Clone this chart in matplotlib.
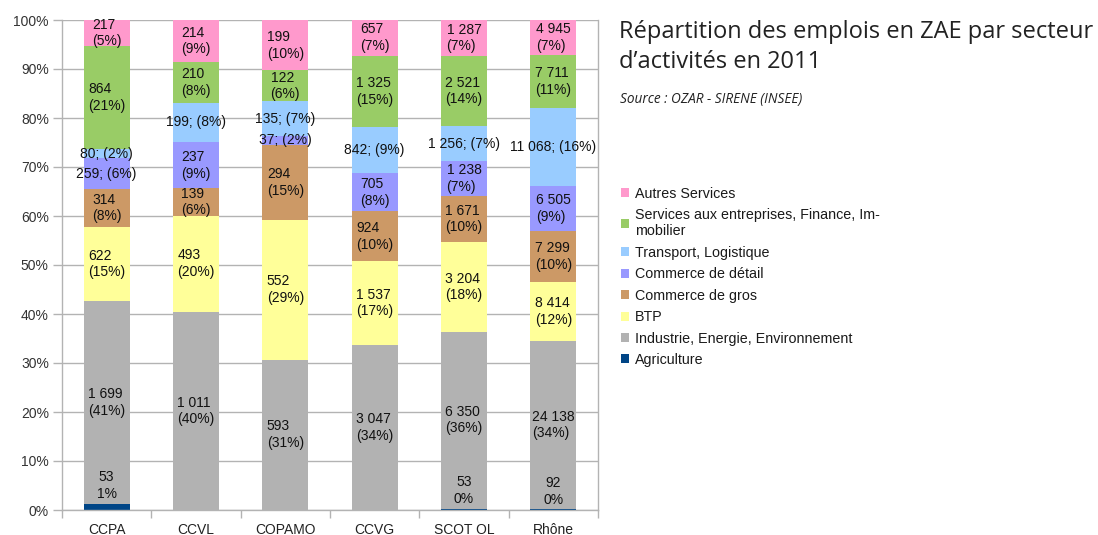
import matplotlib
matplotlib.use("Agg")
import matplotlib.pyplot as plt
import numpy as np

categories = ["CCPA", "CCVL", "COPAMO", "CCVG", "SCOT OL", "Rhône"]
series_names = ["Agriculture", "Industrie, Energie, Environnement", "BTP",
                "Commerce de gros", "Commerce de détail", "Transport, Logistique",
                "Services aux entreprises, Finance, Im-\nmobilier", "Autres Services"]
agriculture = [53, 0, 0, 0, 53, 92]
industrie = [1699, 1011, 593, 3047, 6350, 24138]
btp = [622, 493, 552, 1537, 3204, 8414]
commerce_gros = [314, 139, 294, 924, 1671, 7299]
commerce_detail = [259, 237, 37, 705, 1238, 6505]
transport = [80, 199, 135, 842, 1256, 11068]
services_entreprises = [864, 210, 122, 1325, 2521, 7711]
autres_services = [217, 214, 199, 657, 1287, 4945]
colors = ["#004586", "#b2b2b2", "#ffff99", "#cc9966", "#9999ff", "#99ccff", "#99cc66", "#ff99cc"]
# labels drawn on a single line ("value; (pct)")
single_line = {(5, 0), (5, 1), (5, 2), (5, 3), (5, 4), (5, 5), (4, 0), (4, 2)}

data = np.array([agriculture, industrie, btp, commerce_gros, commerce_detail,
                 transport, services_entreprises, autres_services], dtype=float)
totals = data.sum(axis=0)
shares = data / totals * 100

plt.rcParams['font.family'] = ['Liberation Sans', 'DejaVu Sans']
fig = plt.figure(figsize=(10.98, 5.35), dpi=100)
ax = fig.add_axes([62/1098, 25/535, 536/1098, 490/535])

x = np.arange(len(categories))
bottom = np.zeros(len(categories))
for i, name in enumerate(series_names):
    ax.bar(x, shares[i], 0.515, bottom=bottom, color=colors[i], label=name, zorder=2)
    for j in range(len(categories)):
        v = data[i, j]
        if v <= 0:
            bottom[j] += shares[i, j]
            continue
        vs = f"{int(v):,}".replace(",", " ")
        pct = int(shares[i, j] + 0.5)
        if i == 0:
            ax.text(x[j], bottom[j] + shares[i, j] + 3.7, f"{vs}\n{pct}%", ha="center", va="center",
                    fontsize=10, color="#111111", multialignment="center", linespacing=1.25, zorder=3)
        elif (i, j) in single_line:
            ax.text(x[j], bottom[j] + shares[i, j] / 2, f"{vs}; ({pct}%)", ha="center", va="center",
                    fontsize=10, color="#111111", zorder=3)
        else:
            ax.text(x[j], bottom[j] + shares[i, j] / 2, f"{vs}\n({pct}%)", ha="center", va="center",
                    fontsize=10, color="#111111", multialignment="left", linespacing=1.25, zorder=3)
        bottom[j] += shares[i, j]

ax.set_xlim(-0.5, len(categories) - 0.5)
ax.set_ylim(0, 100)
ax.set_yticks(np.arange(0, 101, 10))
ax.set_yticklabels([f"{t}%" for t in range(0, 101, 10)])
ax.set_xticks(x)
ax.set_xticklabels(categories)
ax.set_xticks(np.arange(-0.5, len(categories), 1), minor=True)
ax.tick_params(axis="x", which="major", length=0, labelsize=10, labelcolor="#222222", pad=9)
ax.tick_params(axis="x", which="minor", length=6, color="#b3b3b3", width=1)
ax.tick_params(axis="y", length=6.5, color="#b3b3b3", width=1, labelsize=10, labelcolor="#333333", pad=3)
ax.yaxis.grid(True, color="#b3b3b3", linewidth=1, zorder=0)
ax.set_axisbelow(True)
for s in ["left", "right", "bottom", "top"]:
    ax.spines[s].set_color("#b3b3b3")
    ax.spines[s].set_linewidth(1)
ax.spines["top"].set_visible(False)

handles, labels = ax.get_legend_handles_labels()
leg = fig.legend(handles[::-1], labels[::-1], loc="upper left", bbox_to_anchor=(615/1098, 1 - 181/535),
                 frameon=False, fontsize=10.3, handlelength=0.6, handleheight=0.6, handletextpad=0.4,
                 labelspacing=0.52, borderaxespad=0)
for t in leg.get_texts():
    t.set_color("#1a1a1a")

fig.text(619/1098, 1 - 47/535, "Répartition des emplois en ZAE par secteur\nd’activités en 2011",
         fontsize=17, family=["Open Sans", "DejaVu Sans"], color="#222222", va="center", ha="left",
         linespacing=1.33)
fig.text(620/1098, 1 - 100/535, "Source : OZAR - SIRENE (INSEE)", fontsize=9.8, style="italic",
         family=["Open Sans", "DejaVu Sans"], color="#222222", va="center", ha="left")

fig.savefig("out.png", dpi=100)
